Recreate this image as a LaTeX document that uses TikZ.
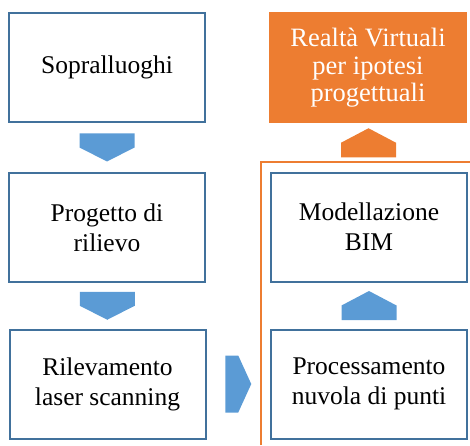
\documentclass[tikz,border=0pt]{standalone}
\usepackage{fontspec}
\setmainfont{Liberation Serif}
\newfontfamily\boxfont{Liberation Serif}
\usepackage{tikz}
\usetikzlibrary{calc}
\definecolor{boxline}{RGB}{65,113,156}
\definecolor{chevblue}{RGB}{91,155,213}
\definecolor{vrorange}{RGB}{237,125,49}

% chevrons drawn between two nodes (x=1pt, y=1pt)
\newcommand{\chevdown}[3]{\fill[#3] ($(#1)!0.5!(#2)$) ++(-27.5,14) -- ++(55,0) -- ++(0,-14) -- ++(-27.5,-14) -- ++(-27.5,14) -- cycle;}
\newcommand{\chevup}[3]{\fill[#3] ($(#1)!0.5!(#2)$) ++(-27.5,-14.5) -- ++(55,0) -- ++(0,14.5) -- ++(-27.5,14.5) -- ++(-27.5,-14.5) -- cycle;}
\newcommand{\chevright}[3]{\fill[#3] ($(#1)!0.5!(#2)$) ++(-13,28.5) -- ++(0,-57) -- ++(13,0) -- ++(13,28.5) -- ++(-13,28.5) -- cycle;}

\begin{document}
\begin{tikzpicture}[x=1pt, y=1pt,
  stepbox/.style={rectangle, draw=boxline, line width=2pt, fill=white, minimum width=196pt, minimum height=109pt, align=center, font=\boxfont\fontsize{25.5}{30}\selectfont, inner sep=0pt},
  vrbox/.style={stepbox, draw=vrorange, fill=vrorange, text=white, font=\boxfont\fontsize{26.5}{27.5}\selectfont},
  chev/.style={fill=chevblue},
  chevor/.style={fill=vrorange},
  frame/.style={draw=vrorange, line width=2.5pt}
]
\useasboundingbox (0,0) rectangle (470,445);
\node[stepbox] (sopr) at (107, 377.5) {Sopralluoghi};
\node[stepbox] (prog) at (107, 217.5) {Progetto di\\rilievo};
\node[stepbox] (ril) at (107.5, 61) {Rilevamento\\laser scanning};
\node[vrbox] (vr) at (368, 377) {Realtà Virtuali\\per ipotesi\\progettuali};
\node[stepbox] (bim) at (369, 218) {Modellazione\\BIM};
\node[stepbox] (proc) at (369, 61) {Processamento\\nuvola di punti};

\coordinate (fbot) at (261, 0);
\coordinate (fright) at (470, 283);
\coordinate (ftop) at (369, 283);
\draw[frame] (fbot) |- (fright);

\chevdown{sopr.south}{prog.north}{chev}
\chevdown{prog.south}{ril.north}{chev}
\chevright{ril.east}{proc.west}{chev}
\chevup{proc.north}{bim.south}{chev}
\chevup{ftop}{vr.south}{chevor}
\end{tikzpicture}
\end{document}
